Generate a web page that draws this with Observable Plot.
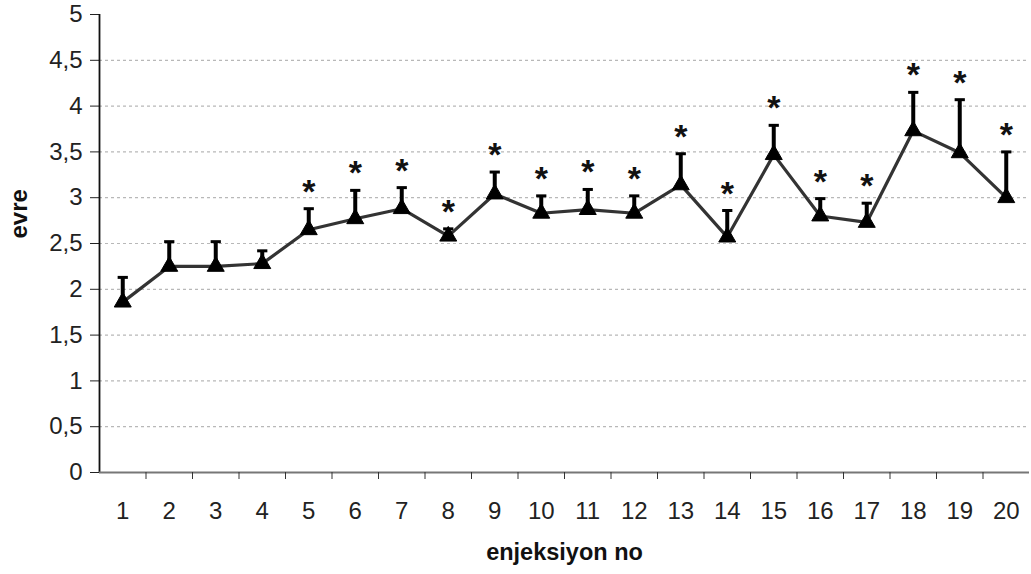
<!DOCTYPE html>
<html>
<head>
<meta charset="utf-8">
<script src="https://cdn.jsdelivr.net/npm/d3@7"></script>
<script src="https://cdn.jsdelivr.net/npm/@observablehq/plot@0.6"></script>
<style>
  html, body { margin: 0; padding: 0; background: #fff; }
  #chart svg { display: block; }
</style>
</head>
<body>
<div id="chart"></div>
<script>
// Data
const injections = [1,2,3,4,5,6,7,8,9,10,11,12,13,14,15,16,17,18,19,20];
const means      = [1.86,2.25,2.25,2.28,2.65,2.77,2.88,2.58,3.04,2.83,2.87,2.83,3.14,2.57,3.47,2.80,2.73,3.73,3.49,3.00];
const upper      = [2.13,2.52,2.52,2.42,2.88,3.08,3.11,2.66,3.28,3.02,3.09,3.02,3.48,2.86,3.79,2.99,2.94,4.15,4.07,3.50];
const significant= [false,false,false,false,true,true,true,true,true,true,true,true,true,true,true,true,true,true,true,true];
const yTicks     = [0,0.5,1,1.5,2,2.5,3,3.5,4,4.5,5];
const gridLines  = [0.5,1,1.5,2,2.5,3,3.5,4,4.5];
const xLabel = "enjeksiyon no";
const yLabel = "evre";

const data = injections.map((x, i) => ({x, mean: means[i], top: upper[i], sig: significant[i]}));
const boundaries = injections.slice(0, -1).map(d => d + 0.5);
const font = "Arial, 'Liberation Sans', Helvetica, sans-serif";

const chart = Plot.plot({
  width: 1031,
  height: 574,
  marginLeft: 99,
  marginRight: 2,
  marginTop: 14,
  marginBottom: 102,
  style: {fontFamily: font, background: "#fff", color: "#111"},
  x: {type: "linear", domain: [0.5, 20.5]},
  y: {domain: [0, 5]},
  marks: [
    Plot.ruleY(gridLines, {stroke: "#b8b8b8", strokeWidth: 1.2, strokeDasharray: "3,3"}),
    Plot.axisY({ticks: yTicks, tickFormat: d => String(d).replace(".", ","), tickSize: 9, tickPadding: 8, fontSize: 24, label: null, stroke: "#222", fill: "#222"}),
    Plot.ruleX([0.5], {y1: 0, y2: 5, stroke: "#111", strokeWidth: 1.8}),
    Plot.ruleY([0], {stroke: "#777", strokeWidth: 1.8}),
    Plot.axisX({ticks: boundaries, tickFormat: () => "", tickSize: 7, stroke: "#333", label: null}),
    Plot.axisX({ticks: injections, tickSize: 0, tickPadding: 29, fontSize: 24, label: null, fill: "#222"}),
    Plot.ruleX(data, {x: "x", y1: "mean", y2: "top", stroke: "#000", strokeWidth: 4}),
    Plot.link(data, {x1: d => d.x - 0.11, x2: d => d.x + 0.11, y1: "top", y2: "top", stroke: "#000", strokeWidth: 3}),
    Plot.line(data, {x: "x", y: "mean", stroke: "#333", strokeWidth: 3.2}),
    Plot.dot(data, {x: "x", y: "mean", symbol: "triangle", r: 6.3, fill: "#000", stroke: "#000", strokeWidth: 1}),
    Plot.text(data.filter(d => d.sig), {x: "x", y: "top", text: () => "*", dy: -6, fontSize: 34, fontWeight: "bold", fill: "#111", lineAnchor: "bottom"}),
    Plot.text([yLabel], {frameAnchor: "left", dx: -80, dy: -5, rotate: -90, fontSize: 24, fontWeight: "bold", fill: "#111"}),
    Plot.text([xLabel], {frameAnchor: "bottom", dy: 87, fontSize: 23.5, fontWeight: "bold", fill: "#111"})
  ]
});
document.getElementById("chart").appendChild(chart);
</script>
</body>
</html>
